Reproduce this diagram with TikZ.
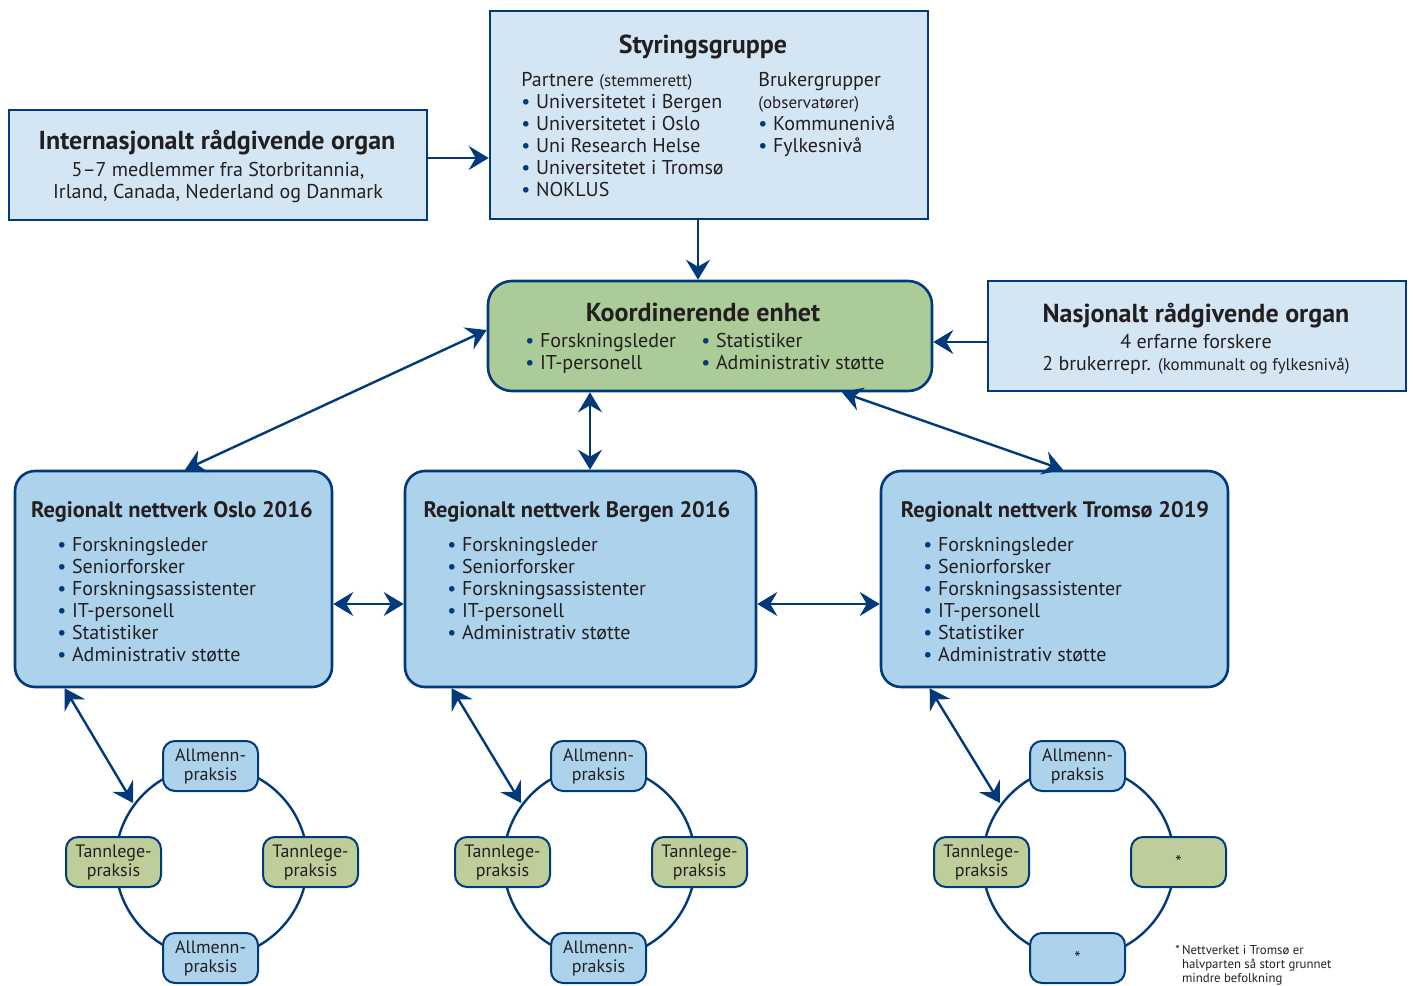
\documentclass[tikz,border=0pt]{standalone}
\usepackage{fontspec}
\setmainfont{PT Sans}
\usetikzlibrary{arrows.meta,calc}
\definecolor{dblue}{HTML}{003A7A}
\definecolor{lfill}{HTML}{D4E6F4}
\definecolor{rfill}{HTML}{ADD2EC}
\definecolor{gfill}{HTML}{ABCB98}
\definecolor{sgfill}{HTML}{BDCE9B}
\definecolor{txt}{HTML}{231F20}
\newcommand\blt{{\color{dblue}\textbullet}\hspace{0.28em}}
\tikzset{
  sqbox/.style={draw=dblue,line width=1.3pt,fill=lfill,inner sep=0pt},
  rbox/.style={draw=dblue,line width=1.3pt,fill=rfill,rounded corners=10pt,inner sep=0pt,minimum height=108pt},
  kbox/.style={draw=dblue,line width=1.3pt,fill=gfill,rounded corners=12pt,inner sep=0pt},
  smallbox/.style={draw=dblue,line width=1pt,rounded corners=6pt,minimum width=47.5pt,minimum height=25pt,inner sep=0pt,align=center,font=\fontsize{9}{9.5}\selectfont,text=txt},
  ap/.style={smallbox,fill=rfill},
  tp/.style={smallbox,fill=sgfill},
  ttl/.style={inner sep=0pt,text=txt,font=\fontsize{13}{15}\selectfont\bfseries,anchor=base},
  rttl/.style={inner sep=0pt,text=txt,font=\fontsize{11.2}{13}\selectfont\bfseries,anchor=base},
  tx/.style={inner sep=0pt,text=txt,font=\fontsize{10}{11}\selectfont,align=left,anchor=base west},
  txc/.style={tx,align=center,anchor=base},
  fn/.style={inner sep=0pt,text=txt,font=\fontsize{6.4}{7}\selectfont,align=left,anchor=base west},
  ring/.style={draw=dblue,line width=1.2pt},
  tipst/.tip={Stealth[length=10pt,width=12pt,inset=3.5pt]},
  sar/.style={draw=dblue,line width=1.2pt,-tipst},
  dar/.style={draw=dblue,line width=1.2pt,tipst-tipst}
}
\begin{document}
\begin{tikzpicture}[x=0.5pt,y=-0.5pt]
\useasboundingbox (0,0) rectangle (1413,985);

% top boxes (multi-line text nodes are placed by the baseline of their last line)
\node[sqbox,minimum width=209pt,minimum height=55pt] (intl) at (218,165) {};
\node[ttl] (intlT) at (217,149) {Internasjonalt rådgivende organ};
\node[txc] (intlB) at (218,198) {5–7 medlemmer fra Storbritannia,\\Irland, Canada, Nederland og Danmark};

\node[sqbox,minimum width=219pt,minimum height=104pt] (styr) at (709,115) {};
\node[ttl] (styrT) at (703,54) {Styringsgruppe};
\node[tx] (styrL) at (521,196) {Partnere {\fontsize{8.5}{9}\selectfont(stemmerett)}\\\blt Universitetet i Bergen\\\blt Universitetet i Oslo\\\blt Uni Research Helse\\\blt Universitetet i Tromsø\\\blt NOKLUS};
\node[tx] (styrR) at (758,152) {Brukergrupper\\{\fontsize{8.5}{9}\selectfont(observatører)}\\\blt Kommunenivå\\\blt Fylkesnivå};

\node[kbox,minimum width=222pt,minimum height=55pt] (koord) at (710,336) {};
\node[ttl] (koordT) at (703,321) {Koordinerende enhet};
\node[tx] (koordL) at (525,369) {\blt Forskningsleder\\\blt IT-personell};
\node[tx] (koordR) at (701,369) {\blt Statistiker\\\blt Administrativ støtte};

\node[sqbox,minimum width=209pt,minimum height=55pt] (nasj) at (1197,336) {};
\node[ttl] (nasjT) at (1196,322) {Nasjonalt rådgivende organ};
\node[txc] (nasjB) at (1196,370) {4 erfarne forskere\\2 brukerrepr. {\fontsize{8.5}{9}\selectfont(kommunalt og fylkesnivå)}};

% regional boxes
\node[rbox,minimum width=158.5pt] (oslo) at (173.5,579) {};
\node[rttl] (osloT) at (172,517) {Regionalt nettverk Oslo 2016};
\node[tx] (osloL) at (57,661) {\blt Forskningsleder\\\blt Seniorforsker\\\blt Forskningsassistenter\\\blt IT-personell\\\blt Statistiker\\\blt Administrativ støtte};

\node[rbox,minimum width=175.5pt] (bergen) at (580.5,579) {};
\node[rttl] (bergenT) at (577,517) {Regionalt nettverk Bergen 2016};
\node[tx] (bergenL) at (447,639) {\blt Forskningsleder\\\blt Seniorforsker\\\blt Forskningsassistenter\\\blt IT-personell\\\blt Administrativ støtte};

\node[rbox,minimum width=173.5pt] (tromso) at (1054.5,579) {};
\node[rttl] (tromsoT) at (1055,517) {Regionalt nettverk Tromsø 2019};
\node[tx] (tromsoL) at (923,661) {\blt Forskningsleder\\\blt Seniorforsker\\\blt Forskningsassistenter\\\blt IT-personell\\\blt Statistiker\\\blt Administrativ støtte};

% rings
\coordinate (oc) at (211.5,862);
\coordinate (bc) at (599.5,862);
\coordinate (tc) at (1078.5,862);
\draw[ring] (oc) circle[radius=96];
\draw[ring] (bc) circle[radius=96];
\draw[ring] (tc) circle[radius=96];

\node[ap] (o1) at ($(oc)+(-1,-96)$) {Allmenn-\\praksis};
\node[tp] (o2) at ($(oc)+(-98,0)$) {Tannlege-\\praksis};
\node[tp] (o3) at ($(oc)+(99,0)$) {Tannlege-\\praksis};
\node[ap] (o4) at ($(oc)+(-1,96)$) {Allmenn-\\praksis};

\node[ap] (b1) at ($(bc)+(-1,-96)$) {Allmenn-\\praksis};
\node[tp] (b2) at ($(bc)+(-97,0)$) {Tannlege-\\praksis};
\node[tp] (b3) at ($(bc)+(100,0)$) {Tannlege-\\praksis};
\node[ap] (b4) at ($(bc)+(-1,96)$) {Allmenn-\\praksis};

\node[ap] (t1) at ($(tc)+(-1,-96)$) {Allmenn-\\praksis};
\node[tp] (t2) at ($(tc)+(-97,0)$) {Tannlege-\\praksis};
\node[tp] (t3) at ($(tc)+(100,0)$) {*};
\node[ap] (t4) at ($(tc)+(-1,96)$) {*};

\node[fn] (note) at (1175,982) {*\,Nettverket i Tromsø er\\\phantom{*\,}halvparten så stort grunnet\\\phantom{*\,}mindre befolkning};

% connectors
\draw[sar] ($(intl.east)+(0,-7)$) -- ($(styr.west |- intl.east)+(0,-7)$);
\draw[sar] ($(styr.south)+(-11,0)$) -- ($(koord.north)+(-12,0)$);
\draw[sar] ($(nasj.west)+(0,6)$) -- ($(koord.east)+(0,6)$);
\draw[dar] ($(koord.west)+(0,-6)$) -- ($(oslo.north)+(11.5,0)$);
\draw[dar] ($(koord.south)+(-120,0)$) -- ($(bergen.north)+(9.5,0)$);
\draw[dar] ($(koord.south)+(132,0)$) -- ($(tromso.north)+(8.5,0)$);
\draw[dar] ($(oslo.east)+(0,25)$) -- ($(bergen.west)+(0,25)$);
\draw[dar] ($(bergen.east)+(0,25)$) -- ($(tromso.west)+(0,25)$);
\draw[dar] ($(oslo.south west)+(51,0)$) -- ($(oc)+(-78.5,-59)$);
\draw[dar] ($(bergen.south west)+(48,0)$) -- ($(bc)+(-78.5,-59)$);
\draw[dar] ($(tromso.south west)+(50,0)$) -- ($(tc)+(-78.5,-59)$);
\end{tikzpicture}
\end{document}
